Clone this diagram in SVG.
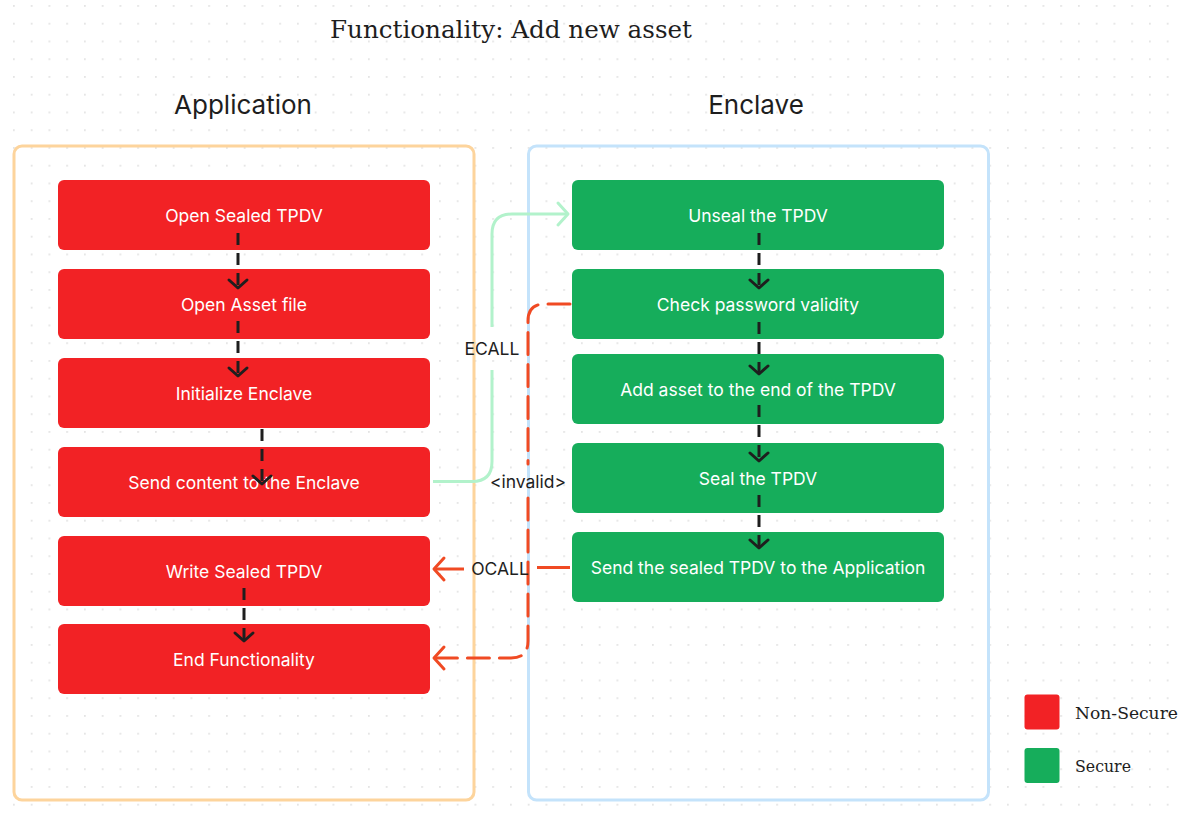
<svg xmlns="http://www.w3.org/2000/svg" width="1182" height="816" viewBox="0 0 1182 816">
<defs>
<pattern id="dots" x="13" y="5" width="17.75" height="17.75" patternUnits="userSpaceOnUse">
<circle cx="0.9" cy="0.9" r="0.9" fill="#dcdcdc"/>
</pattern>
<marker id="ahBlack" viewBox="-12 -12 24 24" refX="0" refY="0" markerWidth="24" markerHeight="24" markerUnits="userSpaceOnUse" orient="auto">
<path d="M -8 -9 L 0 0 L -8 9" fill="none" stroke="#1e1e1e" stroke-width="3" stroke-linecap="round" stroke-linejoin="round"/>
</marker>
<marker id="ahGreen" viewBox="-14 -14 28 28" refX="0" refY="0" markerWidth="28" markerHeight="28" markerUnits="userSpaceOnUse" orient="auto">
<path d="M -10 -11 L 0 0 L -10 11" fill="none" stroke="#b2f2cb" stroke-width="3" stroke-linecap="round" stroke-linejoin="round"/>
</marker>
<marker id="ahRed" viewBox="-14 -14 28 28" refX="0" refY="0" markerWidth="28" markerHeight="28" markerUnits="userSpaceOnUse" orient="auto">
<path d="M -10 -11 L 0 0 L -10 11" fill="none" stroke="#f04a23" stroke-width="3" stroke-linecap="round" stroke-linejoin="round"/>
</marker>
</defs>
<style>
.red{fill:#f22225}
.green{fill:#16ad5b}
.nt{font-family:Inter,"Noto Sans",sans-serif;font-size:17.5px;fill:#ffffff;text-anchor:middle}
.lbl{font-family:Inter,"Noto Sans",sans-serif;font-size:17.5px;fill:#1e1e1e;text-anchor:middle}
.hd{font-family:Inter,"Noto Sans",sans-serif;font-size:26px;fill:#1e1e1e;text-anchor:middle}
.serif{font-family:"DejaVu Serif","Liberation Serif",serif;fill:#1e1e1e}
.flow{fill:none;stroke:#1e1e1e;stroke-width:3;stroke-dasharray:12 8;marker-end:url(#ahBlack)}
</style>
<rect width="1182" height="816" fill="#ffffff"/>
<rect width="1182" height="816" fill="url(#dots)"/>

<text class="serif" x="511" y="38" font-size="25" text-anchor="middle" textLength="362" lengthAdjust="spacingAndGlyphs">Functionality: Add new asset</text>

<g id="app-container">
<rect x="14" y="146" width="460" height="654" rx="8" fill="none" stroke="#fdd49c" stroke-width="3"/>
<text class="hd" x="243" y="114">Application</text>
</g>
<g id="enclave-container">
<rect x="528.5" y="146" width="460" height="654" rx="8" fill="none" stroke="#c4e3fb" stroke-width="3"/>
<text class="hd" x="756" y="114">Enclave</text>
</g>

<g id="n-open-sealed"><rect class="red" x="58" y="180" width="372" height="70" rx="6"/><text class="nt" x="244" y="221.5">Open Sealed TPDV</text></g>
<g id="n-open-asset"><rect class="red" x="58" y="269" width="372" height="70" rx="6"/><text class="nt" x="244" y="310.5">Open Asset file</text></g>
<g id="n-init"><rect class="red" x="58" y="358" width="372" height="70" rx="6"/><text class="nt" x="244" y="399.5">Initialize Enclave</text></g>
<g id="n-send-content"><rect class="red" x="58" y="447" width="372" height="70" rx="6"/><text class="nt" x="244" y="488.5">Send content to the Enclave</text></g>
<g id="n-write"><rect class="red" x="58" y="536" width="372" height="70" rx="6"/><text class="nt" x="244" y="577.5">Write Sealed TPDV</text></g>
<g id="n-end"><rect class="red" x="58" y="624" width="372" height="70" rx="6"/><text class="nt" x="244" y="665.5">End Functionality</text></g>

<g id="n-unseal"><rect class="green" x="572" y="180" width="372" height="70" rx="6"/><text class="nt" x="758" y="221.5">Unseal the TPDV</text></g>
<g id="n-check"><rect class="green" x="572" y="269" width="372" height="70" rx="6"/><text class="nt" x="758" y="310.5">Check password validity</text></g>
<g id="n-add"><rect class="green" x="572" y="354" width="372" height="70" rx="6"/><text class="nt" x="758" y="395.5">Add asset to the end of the TPDV</text></g>
<g id="n-seal"><rect class="green" x="572" y="443" width="372" height="70" rx="6"/><text class="nt" x="758" y="484.5">Seal the TPDV</text></g>
<g id="n-send-sealed"><rect class="green" x="572" y="532" width="372" height="70" rx="6"/><text class="nt" x="758" y="573.5">Send the sealed TPDV to the Application</text></g>

<g id="connectors">
<path class="flow" d="M 238 233 V 288"/>
<path class="flow" d="M 238 321 V 376"/>
<path class="flow" d="M 262 429 V 484"/>
<path class="flow" d="M 244 588 V 641"/>
<path class="flow" d="M 759 233 V 288"/>
<path class="flow" d="M 759 322 V 374"/>
<path class="flow" d="M 759 405 V 461"/>
<path class="flow" d="M 759 495 V 548"/>

<path d="M 433 481.5 H 472 Q 492 481.5 492 461.5 V 370 M 492 327 V 234 Q 492 214 512 214 H 568" fill="none" stroke="#b2f2cb" stroke-width="3" marker-end="url(#ahGreen)"/>
<text class="lbl" x="492" y="355">ECALL</text>

<path d="M 570 304 H 545 Q 528 304 528 321 V 464 M 528 498 V 641 Q 528 658 511 658 H 434" fill="none" stroke="#f04a23" stroke-width="3" stroke-dasharray="22 10" stroke-linecap="round" marker-end="url(#ahRed)"/>
<text class="lbl" x="528" y="488">&lt;invalid&gt;</text>

<path d="M 570 567.5 H 537 M 464 569 H 434" fill="none" stroke="#f04a23" stroke-width="3" marker-end="url(#ahRed)"/>
<text class="lbl" x="500" y="575">OCALL</text>
</g>

<g id="legend">
<rect x="1024.5" y="694.5" width="35" height="35" rx="3" fill="#f22225"/>
<text class="serif" x="1075" y="719" font-size="17" textLength="103" lengthAdjust="spacingAndGlyphs">Non-Secure</text>
<rect x="1024.5" y="748" width="35" height="35" rx="3" fill="#16ad5b"/>
<text class="serif" x="1075" y="772" font-size="17" textLength="56" lengthAdjust="spacingAndGlyphs">Secure</text>
</g>
</svg>
